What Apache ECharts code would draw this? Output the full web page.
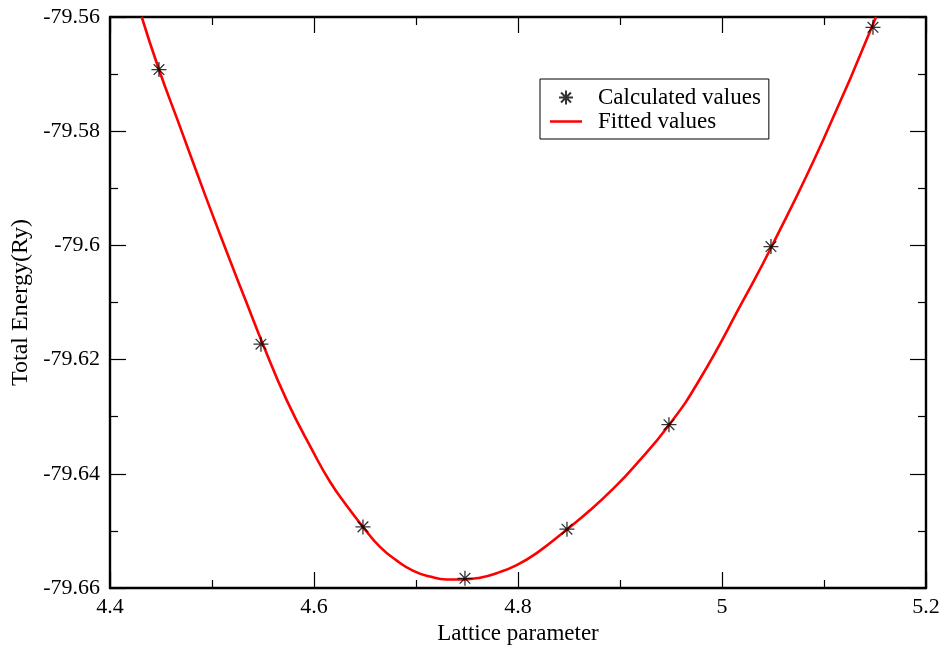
<!DOCTYPE html>
<html>
<head>
<meta charset="utf-8">
<script src="https://cdn.jsdelivr.net/npm/echarts@6/dist/echarts.min.js"></script>
<style>html,body{margin:0;padding:0;background:#fff;}#c{width:948px;height:651px;}</style>
</head>
<body>
<div id="c"></div>
<script>
// Calculated values (stars)
const calcX = [4.448, 4.548, 4.648, 4.748, 4.848, 4.948, 5.048, 5.148];
const calcY = [-79.5692, -79.6173, -79.6493, -79.6583, -79.6497, -79.6314, -79.6002, -79.5618];
// Fitted curve
const fitX = [4.4311, 4.4480, 4.4686, 4.4850, 4.5013, 4.5176, 4.5340, 4.5490, 4.5732, 4.5993, 4.6157, 4.6321, 4.6476, 4.6647, 4.6811, 4.6974, 4.7137, 4.7301, 4.7464, 4.7627, 4.7791, 4.7987, 4.8183, 4.8477, 4.8706, 4.8934, 4.9130, 4.9483, 4.9784, 5.0209, 5.0487, 5.0993, 5.1510];
const fitY = [-79.5600, -79.5692, -79.5792, -79.5872, -79.5950, -79.6026, -79.6101, -79.6169, -79.6271, -79.6362, -79.6414, -79.6456, -79.6492, -79.6528, -79.6552, -79.6570, -79.6580, -79.6585, -79.6585, -79.6582, -79.6574, -79.6560, -79.6539, -79.6498, -79.6464, -79.6426, -79.6389, -79.6314, -79.6234, -79.6096, -79.6002, -79.5815, -79.5600];
// Axes
const xMin = 4.4, xMax = 5.2, xStep = 0.2;
const yMin = -79.66, yMax = -79.56, yStep = 0.02;
const seriesNames = ['Calculated values', 'Fitted values'];
const xName = 'Lattice parameter';
const yName = 'Total Energy(Ry)';

const FONT = 'Liberation Serif';
const starPath = 'path://M10,0L10,20M0,10L20,10M2.9,2.9L17.1,17.1M17.1,2.9L2.9,17.1';
const lineIcon = 'path://M0,0L32,0L32,2.5L0,2.5Z';

const chart = echarts.init(document.getElementById('c'), null, {renderer: 'canvas'});

const axisCommon = {
  axisLine: {show: true, onZero: false, lineStyle: {color: '#000', width: 2.4}},
  axisTick: {show: true, inside: true, length: 16, lineStyle: {color: '#000', width: 1.2}},
  minorTick: {show: true, splitNumber: 2, length: 8, lineStyle: {color: '#000', width: 1.2}},
  splitLine: {show: false},
  minorSplitLine: {show: false}
};

const option = {
  animation: false,
  backgroundColor: '#fff',
  grid: {left: 110, right: 22, top: 17, bottom: 63, containLabel: false},
  legend: {
    orient: 'vertical',
    left: 540, top: 79,
    padding: [7, 8, 6, 10],
    itemGap: 1,
    itemWidth: 32, itemHeight: 14,
    borderColor: '#000', borderWidth: 1, borderRadius: 0,
    backgroundColor: '#fff',
    textStyle: {fontFamily: FONT, fontSize: 23, color: '#000', padding: [0, 0, 0, 11]},
    data: [{name: seriesNames[0]}, {name: seriesNames[1], icon: lineIcon}]
  },
  xAxis: [
    Object.assign({
      type: 'value', min: xMin, max: xMax, interval: xStep, position: 'bottom',
      name: xName, nameLocation: 'middle', nameGap: 32,
      nameTextStyle: {fontFamily: FONT, fontSize: 23, color: '#000'},
      axisLabel: {show: true, margin: 8, fontFamily: FONT, fontSize: 22, color: '#000',
        formatter: v => String(+v.toFixed(2))}
    }, axisCommon),
    Object.assign({
      type: 'value', min: xMin, max: xMax, interval: xStep, position: 'top',
      axisLabel: {show: false}
    }, axisCommon)
  ],
  yAxis: [
    Object.assign({
      type: 'value', min: yMin, max: yMax, interval: yStep, position: 'left',
      name: yName, nameLocation: 'middle', nameGap: 71, nameRotate: 90,
      nameTextStyle: {fontFamily: FONT, fontSize: 24, color: '#000'},
      axisLabel: {show: true, margin: 10, fontFamily: FONT, fontSize: 22, color: '#000',
        formatter: v => String(+v.toFixed(2))}
    }, axisCommon),
    Object.assign({
      type: 'value', min: yMin, max: yMax, interval: yStep, position: 'right',
      axisLabel: {show: false}
    }, axisCommon)
  ],
  series: [
    {
      name: seriesNames[1],
      type: 'line',
      data: fitX.map((x, i) => [x, fitY[i]]),
      symbol: 'none',
      smooth: 0.5,
      clip: true,
      lineStyle: {color: '#ff0000', width: 2.6},
      itemStyle: {color: '#ff0000'},
      z: 2
    },
    {
      name: seriesNames[0],
      type: 'scatter',
      data: calcX.map((x, i) => [x, calcY[i]]),
      symbol: starPath,
      symbolSize: 15,
      itemStyle: {color: '#000', borderColor: '#000', borderWidth: 1.3},
      z: 3
    }
  ]
};
chart.setOption(option);
</script>
</body>
</html>
